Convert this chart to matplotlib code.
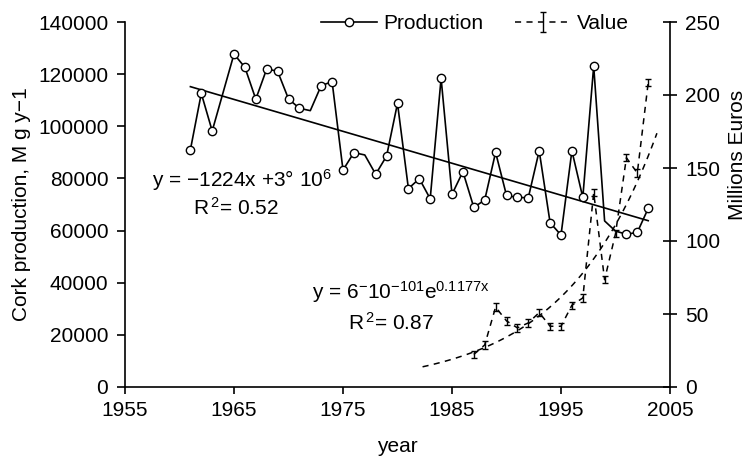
import numpy as np
from matplotlib import pyplot as plt

plt.rcParams['font.family'] = ['Liberation Sans', 'DejaVu Sans']
plt.rcParams['mathtext.default'] = 'regular'
plt.rcParams['font.size'] = 15

# Cork production (Mg per year); 1964 has no point in the original
prod_years = [1961, 1962, 1963, 1965, 1966, 1967, 1968, 1969, 1970, 1971, 1972,
              1973, 1974, 1975, 1976, 1977, 1978, 1979, 1980, 1981, 1982, 1983,
              1984, 1985, 1986, 1987, 1988, 1989, 1990, 1991, 1992, 1993, 1994,
              1995, 1996, 1997, 1998, 1999, 2000, 2001, 2002, 2003]
prod_values = [91000, 112600, 98200, 127700, 122600, 110400, 122000, 121100, 110500,
               106900, 106000, 115600, 117100, 83200, 89900, 89000, 81600, 88600,
               108800, 76100, 79900, 72200, 118400, 73900, 82600, 68900, 71700,
               90000, 73500, 72700, 72600, 90600, 63000, 58300, 90600, 72700,
               123100, 63700, 59800, 58600, 59300, 68500]
# years drawn without a circle marker in the original
prod_no_marker = [1972, 1977, 1999, 2000]

# Value of production (million euros)
value_years = [1987, 1988, 1989, 1990, 1991, 1992, 1993, 1994, 1995, 1996, 1997,
               1998, 1999, 2000, 2001, 2002, 2003]
value_values = [22.3, 28.8, 54.7, 45.3, 40.5, 43.9, 51.0, 41.6, 41.6, 56.0, 61.0,
                133.0, 73.5, 105.0, 157.0, 146.6, 208.4]
value_err = [2.5, 2.5, 2.5, 2.5, 2.5, 2.5, 2.5, 2.5, 2.5, 2.5, 2.5,
             2.5, 2.5, 2.5, 2.5, 2.5, 2.5]

# Trend lines as drawn
lin_slope = -1224
lin_start = (1961, 115200)
lin_end_year = 2003
exp_coef = 6.5e-101
exp_rate = 0.1177
exp_range = (1982.3, 2003.8)

fig = plt.figure(figsize=(7.51, 4.58), dpi=100)
ax = fig.add_subplot(111)
ax2 = ax.twinx()
fig.subplots_adjust(left=125 / 751, right=670 / 751, bottom=1 - 387 / 458, top=1 - 22 / 458)

dash = (0, (4, 3.5))

# production
marker_idx = [i for i, yr in enumerate(prod_years) if yr not in prod_no_marker]
prod_line, = ax.plot(prod_years, prod_values, color='black', lw=1.2, marker='o',
                     markersize=6, markerfacecolor='white', markeredgecolor='black',
                     markeredgewidth=1.0, markevery=marker_idx, label='Production', zorder=3)
lin_x = np.array([lin_start[0], lin_end_year])
lin_y = lin_start[1] + lin_slope * (lin_x - lin_start[0])
ax.plot(lin_x, lin_y, color='black', lw=1.2, zorder=2)

# value
val = ax2.errorbar(value_years, value_values, yerr=value_err, color='black', ls=dash,
                   lw=1.1, elinewidth=1.0, capsize=2.5, capthick=1.0, label='Value')
ex = np.linspace(exp_range[0], exp_range[1], 120)
ax2.plot(ex, exp_coef * np.exp(exp_rate * ex), color='black', lw=1.1, ls=dash)

ax.set_xlim(1955, 2005)
ax.set_ylim(0, 140000)
ax2.set_ylim(0, 250)
ax.set_xticks(range(1955, 2006, 10))
ax.set_yticks(range(0, 140001, 20000))
ax2.set_yticks(range(0, 251, 50))

for s in ['top', 'right']:
    ax.spines[s].set_visible(False)
for s in ['top', 'left', 'bottom']:
    ax2.spines[s].set_visible(False)
for a in (ax, ax2):
    for sp in a.spines.values():
        sp.set_linewidth(1.2)

ax.tick_params(axis='x', direction='out', length=5, width=1.2, pad=5, labelsize=15)
ax.tick_params(axis='y', direction='out', length=6, width=1.2, pad=6, labelsize=15)
ax2.tick_params(axis='y', direction='inout', length=10, width=1.2, pad=6, labelsize=15)

ax.set_xlabel('year', fontsize=15, labelpad=12)
ax.set_ylabel('Cork production, M g y\u22121', fontsize=15, labelpad=5)
ax2.set_ylabel('Millions Euros', fontsize=15, rotation=90, va='center', ha='center')
ax2.yaxis.set_label_coords(1.123, 0.636)

ax.text(0.0495, 0.548, 'y = \u22121224x +3\u00b0 10$^6$', transform=ax.transAxes,
        fontsize=15, va='baseline', ha='left')
ax.text(0.125, 0.471, 'R$^{\\,2}$= 0.52', transform=ax.transAxes,
        fontsize=15, va='baseline', ha='left')
ax.text(0.343, 0.241, 'y = 6$^{\u2212}$10$^{\u2212101}$e$^{0.1177x}$', transform=ax.transAxes,
        fontsize=15, va='baseline', ha='left')
ax.text(0.409, 0.156, 'R$^{\\,2}$= 0.87', transform=ax.transAxes,
        fontsize=15, va='baseline', ha='left')

leg = ax.legend([prod_line, val], ['Production', 'Value'], loc='center',
                bbox_to_anchor=(0.642, 0.995), ncol=2, frameon=False, fontsize=15,
                handlelength=2.7, handletextpad=0.3, columnspacing=1.5, borderpad=0)
leg.set_zorder(5)

plt.savefig('out.png', dpi=100)
